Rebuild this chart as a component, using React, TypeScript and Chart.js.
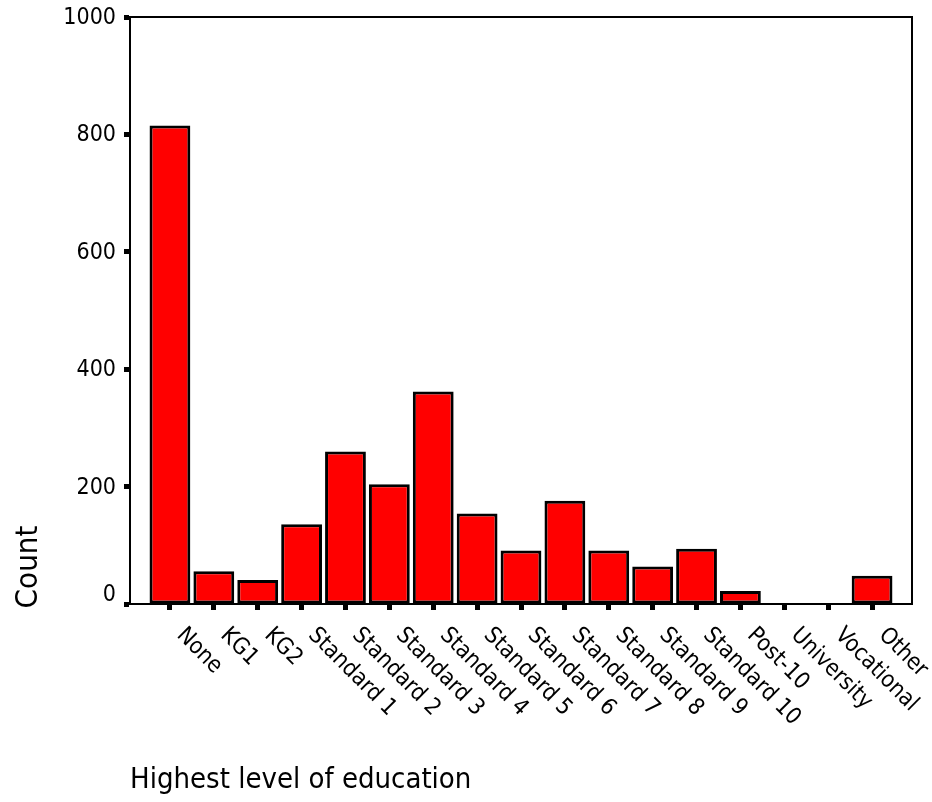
import React, { useEffect, useRef } from 'react';
import { Chart, registerables } from 'chart.js';

Chart.register(...registerables);

const categories = [
  'None', 'KG1', 'KG2', 'Standard 1', 'Standard 2', 'Standard 3', 'Standard 4',
  'Standard 5', 'Standard 6', 'Standard 7', 'Standard 8', 'Standard 9', 'Standard 10',
  'Post-10', 'University', 'Vocational', 'Other',
];
const counts = [815, 56, 41, 136, 260, 204, 362, 154, 91, 176, 91, 64, 94, 22, 1, 1, 48];
const yTickValues = [0, 200, 400, 600, 800, 1000];
const xTitle = 'Highest level of education';
const yTitle = 'Count';

const FONT = '"DejaVu Sans Condensed", "DejaVu Sans", sans-serif';

const decorPlugin = {
  id: 'decor',
  afterDatasetsDraw(chart: any) {
    const { ctx, chartArea } = chart;
    const xs = chart.scales.x;
    const ys = chart.scales.y;
    ctx.save();
    // frame
    ctx.strokeStyle = '#000';
    ctx.lineWidth = 2;
    ctx.strokeRect(chartArea.left, chartArea.top, chartArea.right - chartArea.left, chartArea.bottom - chartArea.top);

    ctx.fillStyle = '#000';
    // y tick labels
    ctx.font = `23px ${FONT}`;
    ctx.textAlign = 'right';
    ctx.textBaseline = 'middle';
    yTickValues.forEach((v) => {
      let py = ys.getPixelForValue(v);
      if (v === 0) py -= 10;
      ctx.fillText(String(v), 116, py + 1);
    });

    // x tick labels, rotated 45deg clockwise
    ctx.font = `23px ${FONT}`;
    ctx.textAlign = 'left';
    ctx.textBaseline = 'alphabetic';
    categories.forEach((lab, i) => {
      const px = xs.getPixelForValue(i);
      ctx.save();
      ctx.translate(px + 6, chartArea.bottom + 32);
      ctx.rotate(Math.PI / 4);
      ctx.fillText(lab, 0, 0);
      ctx.restore();
    });

    // titles
    ctx.font = `29px ${FONT}`;
    ctx.textAlign = 'left';
    ctx.textBaseline = 'alphabetic';
    ctx.fillText(xTitle, 130, 788);

    ctx.font = `31px ${FONT}`;
    ctx.save();
    ctx.translate(37, 567);
    ctx.rotate(-Math.PI / 2);
    ctx.textAlign = 'center';
    ctx.fillText(yTitle, 0, 0);
    ctx.restore();
    ctx.restore();
  },
};

export default function App() {
  const ref = useRef<HTMLCanvasElement>(null);
  useEffect(() => {
    if (!ref.current) return;
    const chart = new Chart(ref.current, {
      type: 'bar',
      data: {
        datasets: [
          {
            data: counts.map((v, i) => ({ x: i, y: v })),
            backgroundColor: '#ff0000',
            borderColor: '#000000',
            borderWidth: 3,
            borderSkipped: false,
            barPercentage: 0.93,
            categoryPercentage: 1,
          },
        ],
      },
      options: {
        responsive: false,
        animation: false,
        devicePixelRatio: 1,
        layout: { padding: { top: 17, right: 20, bottom: 0, left: 0 } },
        plugins: { legend: { display: false }, tooltip: { enabled: false } },
        scales: {
          x: {
            type: 'linear',
            offset: false,
            min: -0.91,
            max: 16.91,
            ticks: { display: false, stepSize: 1, includeBounds: false, maxTicksLimit: 40 },
            grid: { offset: false, drawOnChartArea: false, drawTicks: true, tickLength: 6, tickWidth: 5, tickColor: '#000' },
            border: { display: true, color: '#000', width: 2 },
            afterFit: (s: any) => { s.height = 198; },
          },
          y: {
            min: 0,
            max: 1000,
            ticks: { display: false, stepSize: 200 },
            grid: { drawOnChartArea: false, drawTicks: true, tickLength: 6, tickWidth: 5, tickColor: '#000' },
            border: { display: true, color: '#000', width: 2 },
            afterFit: (s: any) => { s.width = 130; },
          },
        },
      },
      plugins: [decorPlugin],
    });
    return () => chart.destroy();
  }, []);
  return (
    <canvas
      ref={ref}
      width={932}
      height={802}
      style={{ position: 'fixed', left: 0, top: 0, display: 'block', background: '#fff' }}
    />
  );
}
